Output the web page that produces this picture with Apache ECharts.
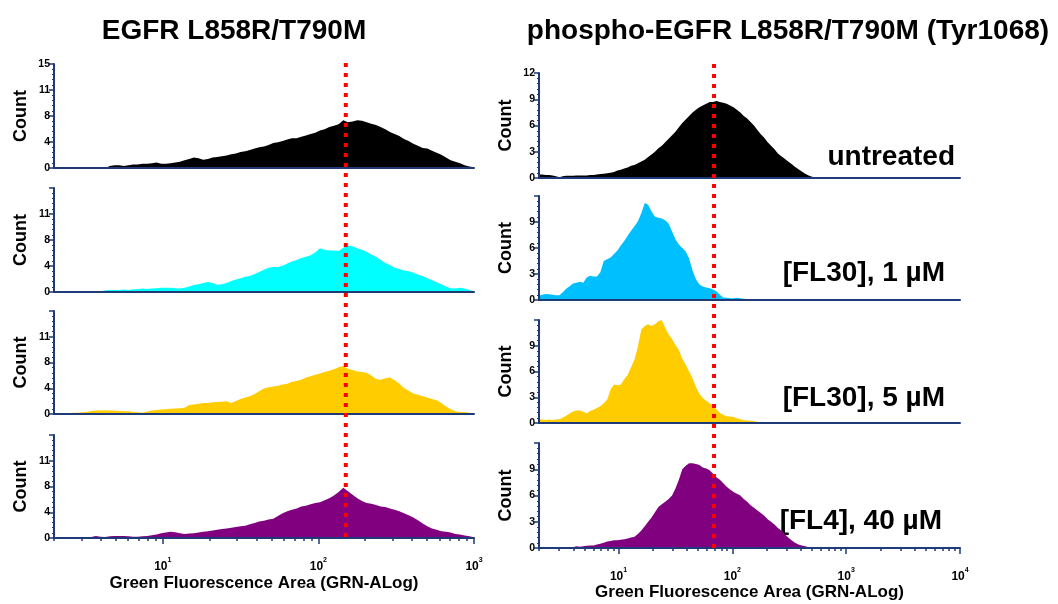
<!DOCTYPE html>
<html>
<head>
<meta charset="utf-8">
<script src="https://cdn.jsdelivr.net/npm/echarts@6/dist/echarts.min.js"></script>
<style>
  html, body { margin: 0; padding: 0; background: #ffffff; }
  #chart { width: 1058px; height: 604px; }
</style>
</head>
<body>
<div id="chart"></div>
<script>
// Histogram bins: centres in log10(fluorescence), shared by every panel
const BIN_START = 0.30;
const BIN_STEP = 0.03;

// Total EGFR L858R/T790M (counts per bin)
const totalUntreated = [
  0,0,0,0,0,0,0,0,0,0,
  0,0,0.3,0.4,0.4,0.3,0.4,0.5,0.5,0.6,
  0.6,0.7,0.8,0.6,0.6,0.7,0.8,0.9,1.1,1.3,
  1.5,1.4,1.2,1.3,1.5,1.6,1.7,1.8,2.0,2.1,
  2.3,2.4,2.6,2.8,3.0,3.1,3.3,3.6,3.7,3.9,
  4.1,4.3,4.3,4.5,4.7,4.9,5.1,5.4,5.6,5.9,
  6.1,6.3,6.9,6.6,6.7,6.9,6.8,6.6,6.4,6.2,
  5.9,5.6,5.2,4.9,4.6,4.2,3.9,3.5,3.2,2.9,
  2.8,2.5,2.2,1.9,1.5,1.1,0.9,0.7,0.4,0.2,
  0.1
];
const totalFL30_1 = [
  0,0,0,0,0,0,0,0,0,0,
  0,0.25,0.3,0.3,0.3,0.35,0.3,0.4,0.4,0.5,
  0.45,0.5,0.55,0.6,0.6,0.6,0.55,0.5,0.6,0.8,
  1.0,1.1,1.3,1.45,1.3,1.05,1.1,1.3,1.6,1.8,
  2.0,2.2,2.3,2.6,2.9,3.2,3.5,3.6,3.6,3.8,
  4.1,4.4,4.6,4.9,5.1,5.3,5.7,6.3,6.1,6.0,
  6.0,5.9,6.4,6.7,6.6,6.3,6.1,5.8,5.4,5.1,
  4.6,4.2,3.9,3.5,3.3,3.1,3.0,2.8,2.5,2.3,
  2.0,1.7,1.4,1.1,0.8,0.55,0.5,0.6,0.5,0.3,
  0.1
];
const totalFL30_5 = [
  0,0,0,0,0.2,0.2,0.25,0.3,0.45,0.5,
  0.5,0.55,0.5,0.5,0.45,0.4,0.4,0.3,0.25,0.2,
  0.35,0.5,0.6,0.65,0.7,0.75,0.8,0.85,0.9,1.3,
  1.4,1.5,1.6,1.6,1.7,1.75,1.8,1.85,1.6,1.9,
  2.2,2.4,2.6,2.9,3.3,3.7,3.9,4.0,4.1,4.3,
  4.4,4.7,4.8,5.0,5.3,5.5,5.7,5.9,6.1,6.3,
  6.5,6.8,7.0,6.6,6.4,6.2,6.1,6.0,5.6,5.1,
  5.0,5.2,5.3,4.9,4.4,3.8,3.4,3.0,2.8,2.6,
  2.4,2.2,2.0,1.6,1.1,0.7,0.4,0.3,0.3,0.2,
  0.1
];
const totalFL4_40 = [
  0,0,0,0,0.15,0.1,0.1,0.1,0.15,0.3,
  0.2,0.15,0.25,0.3,0.3,0.3,0.25,0.2,0.2,0.25,
  0.3,0.4,0.5,0.7,0.8,0.9,0.85,0.7,0.6,0.65,
  0.7,0.8,0.9,1.0,1.1,1.2,1.3,1.4,1.5,1.6,
  1.7,1.8,2.0,2.2,2.4,2.5,2.7,2.8,3.2,3.6,
  3.9,4.1,4.3,4.6,4.7,4.9,5.1,5.2,5.5,5.8,
  6.2,6.7,7.3,6.8,6.3,5.8,5.4,5.1,5.0,4.8,
  4.6,4.5,4.3,4.1,3.9,3.6,3.3,3.0,2.6,2.1,
  1.7,1.4,1.2,1.0,0.9,0.8,0.6,0.5,0.35,0.25,
  0.1
];

// phospho-EGFR (Tyr1068) (counts per bin)
const phosphoUntreated = [
  0.4,0.4,0.35,0.35,0.3,0.2,0.1,0.2,0.25,0.25,
  0.25,0.3,0.3,0.3,0.3,0.35,0.35,0.4,0.45,0.5,
  0.55,0.6,0.7,0.85,0.95,1.1,1.2,1.4,1.5,1.7,
  1.9,2.1,2.4,2.7,3.0,3.4,3.7,4.1,4.5,4.9,
  5.3,5.8,6.3,6.7,7.1,7.5,7.8,8.1,8.3,8.5,
  8.7,8.7,8.8,8.7,8.6,8.5,8.3,8.1,7.8,7.5,
  7.1,6.8,6.4,6.0,5.5,5.0,4.6,4.1,3.7,3.3,
  2.8,2.5,2.2,1.9,1.6,1.3,1.0,0.75,0.5,0.3,
  0.15,0.05,0
];
const phosphoFL30_1 = [
  0.5,0.6,0.7,0.65,0.6,0.55,0.55,0.9,1.3,1.6,
  1.9,2.0,2.1,2.0,2.6,2.8,2.7,2.7,3.2,4.5,
  4.7,4.9,5.3,5.7,6.3,6.8,7.4,8.0,8.5,9.1,
  10.0,11.2,11.0,10.2,9.6,9.5,9.4,9.2,8.8,7.9,
  7.0,6.4,6.0,5.6,4.8,3.4,2.4,1.8,1.55,1.45,
  1.35,1.2,1.0,0.6,0.3,0.25,0.2,0.2,0.25,0.2,
  0.15,0
];
const phosphoFL30_5 = [
  0.4,0.4,0.35,0.4,0.35,0.4,0.45,0.6,0.85,1.1,
  1.35,1.45,1.45,1.3,1.15,1.4,1.55,1.75,1.95,2.3,
  2.7,3.9,4.5,4.4,4.5,5.1,5.6,6.5,7.4,8.9,
  10.9,11.3,11.5,11.3,11.5,11.85,12.0,11.1,10.3,9.8,
  9.1,8.5,7.5,6.8,6.0,5.2,4.2,3.4,2.9,2.6,
  2.3,2.0,1.6,1.17,0.95,0.8,0.75,0.7,0.55,0.45,
  0.35,0.3,0.25,0.2,0.15,0
];
const phosphoFL4_40 = [
  0,0,0,0,0,0,0,0,0,0,
  0.1,0.2,0.15,0.2,0.25,0.3,0.3,0.4,0.5,0.6,
  0.75,0.8,0.9,0.9,0.95,1.0,1.1,1.2,1.3,1.6,
  2.0,2.5,3.0,3.5,4.1,4.7,5.0,5.3,5.6,6.0,
  6.8,7.8,9.0,9.4,9.7,9.7,9.6,9.5,9.2,9.1,
  8.9,8.5,8.1,7.8,7.4,7.0,6.7,6.4,6.2,6.0,
  5.6,5.3,4.9,4.6,4.3,4.0,3.7,3.3,3.0,2.7,
  2.3,2.0,1.6,1.2,0.9,0.6,0.4,0.3,0.2,0.1,
  0
];

const conditionLabels = ['untreated', '[FL30], 1 \u00b5M', '[FL30], 5 \u00b5M', '[FL4], 40 \u00b5M'];
const columnTitles = ['EGFR L858R/T790M', 'phospho-EGFR L858R/T790M (Tyr1068)'];
const xAxisTitle = 'Green Fluorescence Area (GRN-ALog)';

// Axis ranges and tick values
const xMinValue = 2;                 // fluorescence at the left edge of every panel
const leftDecades = [1, 2, 3];       // 10^1 .. 10^3
const rightDecades = [1, 2, 3, 4];   // 10^1 .. 10^4
const leftYMax = 15, leftYStep = 3.75;
const rightYMax = 12, rightYStep = 3;

// Reference gate (fluorescence value of the dotted red line)
const gateTotal = 150;
const gatePhospho = 69;

const FONT = '"Liberation Sans", Arial, Helvetica, sans-serif';
const AXIS_COLOR = '#1f3a78';
const LOG_MIN = Math.log10(xMinValue);

const columns = [
  {
    counts: [totalUntreated, totalFL30_1, totalFL30_5, totalFL4_40],
    colors: ['#000000', '#00ffff', '#ffcc00', '#800080'],
    decades: leftDecades, yMax: leftYMax, yStep: leftYStep,
    gate: gateTotal,
    left: 54, width: 420,
    tops: [64, 188, 311, 435], heights: [104, 104, 103, 103],
    gateTop: 63, gateBottom: 541,
    nameGap: 37, titleX: 234
  },
  {
    counts: [phosphoUntreated, phosphoFL30_1, phosphoFL30_5, phosphoFL4_40],
    colors: ['#000000', '#00bfff', '#ffcc00', '#800080'],
    decades: rightDecades, yMax: rightYMax, yStep: rightYStep,
    gate: gatePhospho,
    left: 539, width: 421,
    tops: [73, 196, 320, 443], heights: [105, 104, 103, 105],
    gateTop: 64, gateBottom: 552,
    nameGap: 35, titleX: 788
  }
];

// condition label anchors (right edge, vertical centre)
const labelAnchors = [[955, 157], [945, 273], [945, 398], [942, 521]];

function minorLogTicks(maxExp) {
  const out = [];
  for (let e = 0; e < maxExp; e++) {
    for (let k = 2; k <= 9; k++) {
      const v = Math.log10(k * Math.pow(10, e));
      if (v >= LOG_MIN - 1e-9) out.push(v);
    }
  }
  return out;
}

const grids = [], xAxes = [], yAxes = [], series = [], graphics = [];

columns.forEach(function (col, ci) {
  const maxExp = col.decades[col.decades.length - 1];
  const yLabelAll = [];
  for (let v = 0; v <= col.yMax + 1e-9; v += col.yStep) yLabelAll.push(v);
  const yLabelNoTop = yLabelAll.slice(0, -1);

  col.counts.forEach(function (counts, p) {
    const isBottom = p === col.counts.length - 1;
    const gi = grids.length;
    grids.push({ left: col.left, top: col.tops[p], width: col.width, height: col.heights[p] });

    const xi = xAxes.length;
    xAxes.push({
      type: 'value', gridIndex: gi, min: LOG_MIN, max: maxExp, z: 5,
      axisLine: { show: true, onZero: false, lineStyle: { color: AXIS_COLOR, width: 2 } },
      splitLine: { show: false },
      axisTick: isBottom
        ? { show: true, customValues: col.decades, length: 6, lineStyle: { color: AXIS_COLOR, width: 1.5 } }
        : { show: false },
      axisLabel: isBottom
        ? {
            show: true, customValues: col.decades, margin: 19,
            formatter: function (v) { return '{b|10}{s|' + Math.round(v) + '}'; },
            rich: {
              b: { fontFamily: FONT, fontWeight: 'bold', fontSize: 12, color: '#000', lineHeight: 16, verticalAlign: 'bottom' },
              s: { fontFamily: FONT, fontWeight: 'bold', fontSize: 7, color: '#000', lineHeight: 8, verticalAlign: 'top' }
            }
          }
        : { show: false },
      name: isBottom ? xAxisTitle : '',
      nameLocation: 'middle', nameGap: col.nameGap,
      nameTextStyle: { fontFamily: FONT, fontWeight: 'bold', fontSize: 17, color: '#000' }
    });
    if (isBottom) {
      // minor log ticks (2..9 x 10^n)
      xAxes.push({
        type: 'value', gridIndex: gi, min: LOG_MIN, max: maxExp, z: 5, position: 'bottom',
        axisLine: { show: false },
        splitLine: { show: false },
        axisTick: { show: true, customValues: minorLogTicks(maxExp), length: 3, lineStyle: { color: AXIS_COLOR, width: 1.5 } },
        axisLabel: { show: false }
      });
    }

    const yi = yAxes.length;
    yAxes.push({
      type: 'value', gridIndex: gi, min: 0, max: col.yMax, interval: col.yStep, z: 5,
      axisLine: { show: true, lineStyle: { color: AXIS_COLOR, width: 2 } },
      splitLine: { show: false },
      axisTick: { show: true, length: 5, lineStyle: { color: AXIS_COLOR, width: 1.5 } },
      minorTick: { show: true, splitNumber: 5, length: 2, lineStyle: { color: AXIS_COLOR, width: 1 } },
      axisLabel: {
        customValues: p === 0 ? yLabelAll : yLabelNoTop,
        margin: 4, fontFamily: FONT, fontWeight: 'bold', fontSize: 10.5, color: '#000',
        formatter: function (v) { return String(Math.round(v)); }
      },
      name: 'Count', nameLocation: 'middle', nameGap: 24,
      nameTextStyle: { fontFamily: FONT, fontWeight: 'bold', fontSize: 18, color: '#000' }
    });

    series.push({
      type: 'line', xAxisIndex: xi, yAxisIndex: yi,
      data: counts.map(function (c, i) { return [BIN_START + i * BIN_STEP, c]; }),
      showSymbol: false, symbol: 'none', silent: true,
      lineStyle: { width: 0 },
      itemStyle: { color: col.colors[p] },
      areaStyle: { color: col.colors[p], opacity: 1 },
      z: 2
    });
  });

  // full-height overlay for the gate line
  const gi = grids.length;
  grids.push({ left: col.left, top: col.gateTop, width: col.width, height: col.gateBottom - col.gateTop });
  const xi = xAxes.length;
  xAxes.push({ type: 'value', gridIndex: gi, min: LOG_MIN, max: maxExp, show: false });
  const yi = yAxes.length;
  yAxes.push({ type: 'value', gridIndex: gi, min: 0, max: 1, show: false });
  const g = Math.log10(col.gate);
  series.push({
    type: 'line', xAxisIndex: xi, yAxisIndex: yi,
    data: [[g, 1], [g, 0]],
    showSymbol: false, symbol: 'none', silent: true,
    lineStyle: { color: '#ff0000', width: 4, type: [4, 6], cap: 'butt' },
    z: 10
  });

  graphics.push({
    type: 'text', x: col.titleX, y: 31,
    style: { text: columnTitles[ci], font: 'bold 28px ' + FONT, fill: '#000', align: 'center', verticalAlign: 'middle' }
  });
});

conditionLabels.forEach(function (t, i) {
  graphics.push({
    type: 'text', x: labelAnchors[i][0], y: labelAnchors[i][1],
    style: { text: t, font: 'bold 28px ' + FONT, fill: '#000', align: 'right', verticalAlign: 'middle' }
  });
});

const chart = echarts.init(document.getElementById('chart'), null, { renderer: 'canvas' });
chart.setOption({
  animation: false,
  backgroundColor: '#ffffff',
  grid: grids,
  xAxis: xAxes,
  yAxis: yAxes,
  series: series,
  graphic: graphics
});
</script>
</body>
</html>
